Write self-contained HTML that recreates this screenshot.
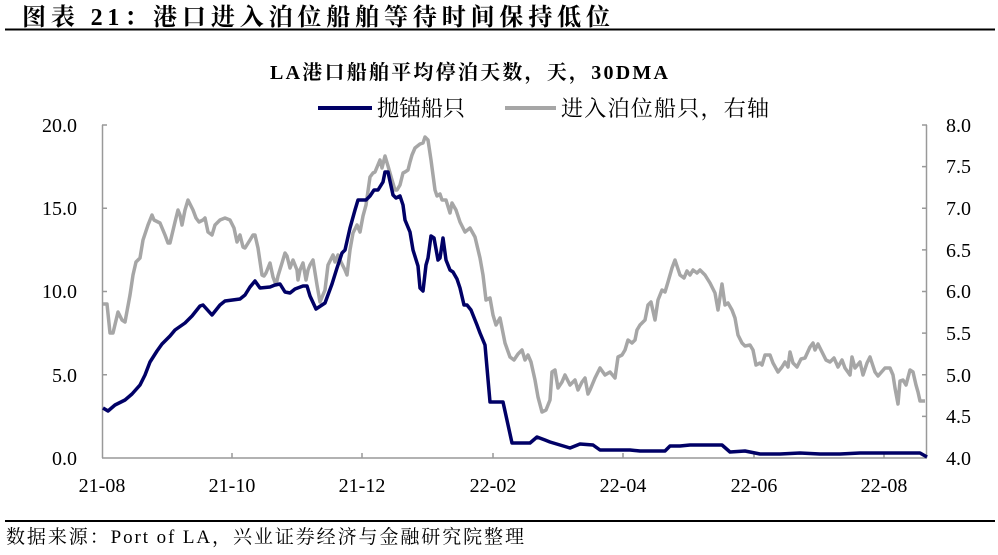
<!DOCTYPE html>
<html><head><meta charset="utf-8"><style>
body{margin:0;background:#fff;}
svg text{font-family:"Liberation Serif","Noto Serif CJK SC",serif;}
</style></head><body>
<svg width="998" height="550" viewBox="0 0 998 550" xmlns="http://www.w3.org/2000/svg">
<text x="22" y="25" font-size="24" font-weight="bold" fill="#000" textLength="588" lengthAdjust="spacing">图表 21：港口进入泊位船舶等待时间保持低位</text>
<rect x="5" y="28.5" width="990" height="2" fill="#000"/>
<text x="270" y="79" font-size="20" font-weight="bold" textLength="398" lengthAdjust="spacing">LA港口船舶平均停泊天数，天，30DMA</text>
<line x1="318" y1="108" x2="372" y2="108" stroke="#000066" stroke-width="4"/>
<text x="377" y="116" font-size="22" textLength="88" lengthAdjust="spacing">抛锚船只</text>
<line x1="505" y1="108" x2="556" y2="108" stroke="#a6a6a6" stroke-width="4"/>
<text x="561" y="116" font-size="22" textLength="208" lengthAdjust="spacing">进入泊位船只，右轴</text>
<g stroke="#999" stroke-width="1.5" fill="none">
<line x1="102.5" y1="125" x2="102.5" y2="458"/>
<line x1="926.5" y1="125" x2="926.5" y2="458"/>
<line x1="102" y1="458" x2="927" y2="458"/>
<path d="M102 125h5M102 208.2h5M102 291.5h5M102 374.8h5"/>
<path d="M927 125h-5M927 166.6h-5M927 208.2h-5M927 249.9h-5M927 291.5h-5M927 333.1h-5M927 374.8h-5M927 416.4h-5"/>
<path d="M232 458v-5M362 458v-5M493 458v-5M623 458v-5M754 458v-5M884 458v-5"/>
</g>
<g font-size="20" text-anchor="end">
<text x="77" y="132">20.0</text><text x="77" y="215">15.0</text><text x="77" y="298">10.0</text><text x="77" y="382">5.0</text><text x="77" y="465">0.0</text>
</g>
<g font-size="20">
<text x="946" y="132">8.0</text><text x="946" y="173">7.5</text><text x="946" y="215">7.0</text><text x="946" y="257">6.5</text><text x="946" y="298">6.0</text><text x="946" y="340">5.5</text><text x="946" y="382">5.0</text><text x="946" y="423">4.5</text><text x="946" y="465">4.0</text>
</g>
<g font-size="20" text-anchor="middle">
<text x="102" y="492">21-08</text><text x="232" y="492">21-10</text><text x="362" y="492">21-12</text><text x="493" y="492">22-02</text><text x="623" y="492">22-04</text><text x="754" y="492">22-06</text><text x="884" y="492">22-08</text>
</g>
<polyline fill="none" stroke="#a6a6a6" stroke-width="3.5" stroke-linejoin="round" points="103,304 107,304 110,333 113,333 118,312 122,320 125,322 130,295 133,275 136,262 140,258 143,240 148,225 152,215 154,220 160,223 165,235 168,243 170,243 175,222 178,210 180,215 182,225 185,210 188,200 193,210 196,218 199,222 203,220 205,218 208,232 212,235 215,225 220,220 225,218 230,220 234,228 237,242 240,235 243,247 245,248 250,240 253,235 255,235 258,248 262,275 264,276 266,273 270,263 273,277 276,285 278,276 282,263 285,253 287,256 290,268 293,260 297,270 298,280 300,270 303,263 306,280 308,270 310,265 313,260 317,285 320,302 325,290 328,265 333,255 335,262 338,255 341,262 345,270 347,275 350,250 353,233 357,225 360,232 363,216 366,205 370,177 373,173 375,172 380,160 382,168 385,156 388,166 392,180 395,190 397,190 400,185 403,173 405,172 408,170 410,162 412,155 415,148 420,144 423,143 425,137 428,140 431,160 433,175 435,190 437,196 440,194 442,200 446,200 450,213 452,203 456,210 460,222 465,232 470,228 475,237 480,258 483,275 486,300 490,298 493,315 496,325 500,318 505,343 510,357 514,360 518,354 522,350 525,360 528,355 531,362 535,380 538,397 542,412 546,410 550,400 552,372 555,370 558,388 562,382 565,375 570,385 575,380 578,390 582,382 585,378 588,394 590,390 595,378 600,368 605,375 610,372 615,378 618,357 622,355 625,350 628,340 632,343 635,340 637,330 640,325 645,320 648,305 651,302 655,320 658,300 662,290 665,292 668,282 672,268 675,260 677,266 680,275 684,278 687,271 690,275 693,270 697,273 700,270 705,275 710,283 715,293 718,310 722,284 725,305 728,303 732,310 735,318 738,335 742,343 745,346 750,345 753,350 756,365 760,363 762,365 765,355 770,355 773,363 778,372 782,367 785,362 788,367 790,352 793,363 797,367 801,359 805,358 810,347 813,343 815,350 818,344 822,352 826,360 830,362 834,358 838,367 842,360 845,368 850,375 852,357 855,368 860,362 863,375 867,363 870,357 875,372 878,376 885,368 890,368 893,375 895,388 898,404 900,381 903,380 906,385 910,370 913,372 916,385 918,392 920,401 925,401"/>
<polyline fill="none" stroke="#000066" stroke-width="3.5" stroke-linejoin="round" points="103,408 108,411 115,405 125,400 132,394 140,385 145,375 150,362 157,351 162,344 170,336 175,330 185,323 192,316 200,306 203,305 212,315 220,305 225,301 240,299 245,295 250,287 255,281 260,288 270,287 275,285 280,284 285,292 290,293 295,289 303,286 307,286 310,296 316,309 325,303 332,284 337,268 342,253 345,250 350,228 355,210 358,200 362,200 366,200 370,196 374,190 378,190 383,182 385,172 388,172 393,195 396,198 400,196 403,205 405,220 410,232 413,250 418,266 420,288 423,291 426,265 428,258 431,236 434,238 438,260 440,258 443,238 446,260 450,270 453,272 457,279 460,288 464,305 467,305 471,310 477,325 480,333 485,345 490,402 496,402 503,402 512,443 530,443 537,437 545,440 550,442 560,445 570,448 580,444 593,445 600,450 620,450 630,450 640,451 647,451 665,451 670,446 680,446 690,445 700,445 710,445 722,445 730,452 745,451 760,454 780,454 800,453 820,454 840,454 860,453 880,453 900,453 920,453 927,457"/>
<rect x="5" y="520" width="990" height="2" fill="#000"/>
<text x="6" y="543" font-size="19" textLength="518" lengthAdjust="spacing">数据来源：Port of LA，兴业证券经济与金融研究院整理</text>
</svg>
</body></html>
